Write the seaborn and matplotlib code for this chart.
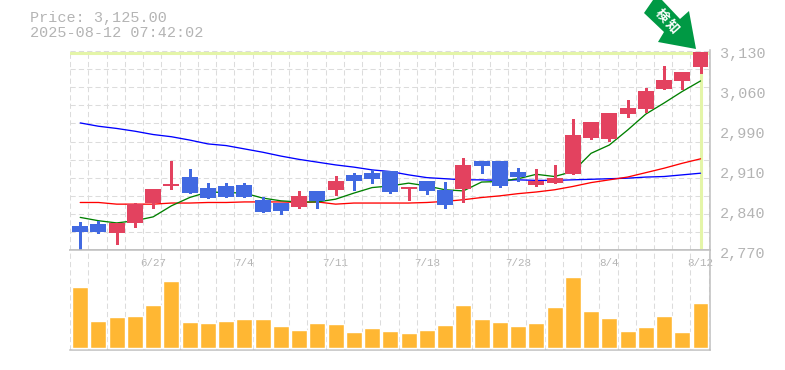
import numpy as np
import pandas as pd
import matplotlib
matplotlib.use("Agg")
import matplotlib.pyplot as plt
from matplotlib.patches import Polygon
from matplotlib.transforms import ScaledTranslation
import seaborn as sns

# ---- data ----
price_open = [2813, 2817, 2801, 2819, 2855, 2886, 2902, 2882, 2886, 2888, 2860, 2855,
              2848, 2877, 2879, 2906, 2909, 2913, 2880, 2895, 2879, 2880, 2931, 2931,
              2911, 2888, 2891, 2908, 2973, 2971, 3016, 3025, 3061, 3076, 3101]
price_high = [2821, 2822, 2819, 2855, 2880, 2931, 2917, 2891, 2891, 2891, 2866, 2855,
              2877, 2877, 2904, 2909, 2915, 2913, 2884, 2895, 2893, 2937, 2931, 2931,
              2918, 2917, 2924, 3007, 3002, 3018, 3042, 3063, 3103, 3092, 3128]
price_low = [2772, 2801, 2781, 2812, 2846, 2880, 2873, 2864, 2866, 2866, 2839, 2835,
             2846, 2846, 2870, 2879, 2891, 2873, 2860, 2871, 2846, 2857, 2909, 2884,
             2895, 2886, 2891, 2908, 2971, 2967, 3011, 3020, 3061, 3061, 3090]
price_close = [2803, 2803, 2819, 2853, 2880, 2890, 2873, 2864, 2866, 2866, 2839, 2841,
               2868, 2859, 2895, 2895, 2899, 2875, 2884, 2877, 2851, 2924, 2922, 2886,
               2902, 2895, 2900, 2978, 3002, 3018, 3027, 3058, 3078, 3092, 3128]
ma_short = [2829, 2823, 2819, 2823, 2830, 2850, 2865, 2875, 2874, 2873, 2864, 2859,
            2857, 2857, 2862, 2873, 2883, 2886, 2891, 2886, 2879, 2877, 2893, 2894,
            2899, 2907, 2903, 2912, 2945, 2960, 2987, 3016, 3036, 3057, 3076]
ma_mid = [2856, 2856, 2853, 2853, 2853, 2855, 2855, 2856, 2856, 2857, 2857, 2857,
          2856, 2857, 2853, 2855, 2855, 2855, 2855, 2856, 2858, 2861, 2865, 2868,
          2872, 2875, 2879, 2885, 2892, 2897, 2902, 2910, 2918, 2927, 2935]
ma_long = [3000, 2994, 2990, 2985, 2979, 2975, 2969, 2962, 2959, 2953, 2947, 2940,
           2934, 2929, 2924, 2920, 2915, 2912, 2906, 2901, 2899, 2897, 2897, 2896,
           2897, 2896, 2896, 2897, 2898, 2899, 2900, 2902, 2903, 2906, 2909]
volume = [61, 27, 31, 32, 43, 67, 26, 25, 27, 29, 29, 22, 18, 25, 24, 16, 20, 17,
          15, 18, 23, 43, 29, 26, 22, 25, 41, 71, 37, 30, 17, 21, 32, 16, 45]
date_labels = ["6/27", "7/4", "7/11", "7/18", "7/28", "8/4", "8/12"]
date_index = [4, 9, 14, 19, 24, 29, 34]
price_ticks = [2770, 2842.4, 2914.8, 2987.2, 3059.6, 3132]
price_labels = ["2,770", "2,840", "2,910", "2,990", "3,060", "3,130"]
current_price = 3128

UP, DOWN = "#e3425f", "#4169e1"
VOL = "#ffb733"
GRID, FRAME, TEXT = "#dcdcdc", "#bfbfbf", "#b4b4b4"
HILITE = "#e4f5a8"
ARROW = "#009944"
MONO = "Liberation Mono"

W, H = 785, 370
sns.set_theme(style="white", rc={"font.family": MONO})
fig = plt.figure(figsize=(W / 100, H / 100), dpi=100)


def axes_px(l, t, r, b):
    return fig.add_axes([l / W, 1 - b / H, (r - l) / W, (b - t) / H])


ax = axes_px(70, 50, 710, 250)
axv = axes_px(70, 250, 710, 350)

n = len(volume)
xs = np.arange(n)
xlim = (-0.56, 34.52)
bounds = np.arange(n + 1) - 0.55
df = pd.DataFrame({"x": xs, "open": price_open, "high": price_high, "low": price_low,
                   "close": price_close, "short": ma_short, "mid": ma_mid,
                   "long": ma_long, "vol": volume})
grid_kw = dict(color=GRID, linewidth=0.75, linestyle=(0, (5, 3)))

# ---- price panel ----
ax.set_xlim(*xlim)
ax.set_ylim(2770, 3132)
ax.set_xticks(bounds, minor=True)
ax.set_xticks([])
ax.set_yticks(2770 + np.arange(12) * 360 / 11, minor=True)
ax.grid(which="minor", **grid_kw)
ax.set_axisbelow(True)
ax.tick_params(which="both", length=0, labelbottom=False)
ax.set_yticks(price_ticks, price_labels)
ax.yaxis.tick_right()
ax.tick_params(axis="y", which="major", length=0, pad=7, labelsize=10.9, labelcolor=TEXT)
for lab in ax.get_yticklabels():
    lab.set_transform(lab.get_transform() + ScaledTranslation(0, -2.4 / 100, fig.dpi_scale_trans))

ax.axhline(current_price - 1, color=HILITE, linewidth=2.2, zorder=1.5)
ax.vlines(n - 1, 2772, current_price, color=HILITE, linewidth=2.2, zorder=1.5)

sns.lineplot(data=df, x="x", y="long", color="#0000ff", linewidth=0.95, ax=ax, zorder=2, errorbar=None)
sns.lineplot(data=df, x="x", y="mid", color="#ff0000", linewidth=0.95, ax=ax, zorder=2.1, errorbar=None)
sns.lineplot(data=df, x="x", y="short", color="#008000", linewidth=0.95, ax=ax, zorder=2.2, errorbar=None)
ax.set_xlabel("")
ax.set_ylabel("")
ax.set_xlim(*xlim)
ax.set_ylim(2770, 3132)

colors = [UP if c >= o else DOWN for o, c in zip(price_open, price_close)]
ax.vlines(xs, price_low, price_high, colors=colors, linewidth=1.0, zorder=3, antialiased=False)
bottoms = np.minimum(price_open, price_close)
heights = np.abs(np.subtract(price_close, price_open))
ax.bar(xs, heights, bottom=bottoms, width=0.875, color=colors, linewidth=0, zorder=4)

for side in ("left", "top"):
    ax.spines[side].set_visible(False)
for side in ("right", "bottom"):
    ax.spines[side].set_color(FRAME)
    ax.spines[side].set_linewidth(1.1)

# ---- volume panel ----
sns.barplot(data=df, x="x", y="vol", native_scale=True, color=VOL, saturation=1,
            width=0.875, ax=axv, zorder=3, errorbar=None)
axv.set_xlim(*xlim)
axv.set_ylim(-2, 98)
axv.set_xlabel("")
axv.set_ylabel("")
axv.set_yticks([])
axv.set_xticks(bounds, minor=True)
axv.grid(which="minor", axis="x", **grid_kw)
axv.set_axisbelow(True)
axv.set_xticks(date_index, date_labels)
axv.tick_params(which="both", length=0)
axv.tick_params(axis="x", which="major", top=False, bottom=False, labeltop=True, labelbottom=False,
                pad=-12.7, labelsize=7.8, labelcolor=TEXT)
axv.spines["left"].set_visible(False)
for side in ("right", "bottom", "top"):
    axv.spines[side].set_color(FRAME)
    axv.spines[side].set_linewidth(1.1)

# ---- header text ----
fig.text(30 / W, 1 - 18 / H, "Price: 3,125.00", color=TEXT, fontsize=10.9, family=MONO, va="center")
fig.text(30 / W, 1 - 33 / H, "2025-08-12 07:42:02", color=TEXT, fontsize=10.9, family=MONO, va="center")

# ---- green arrow badge ----
arrow_px = [(653, 0), (644, 13), (664, 32), (658, 42), (696, 49), (689, 11), (680, 19), (662, 0)]
fig.add_artist(Polygon([(x / W, 1 - y / H) for x, y in arrow_px], closed=True,
                       transform=fig.transFigure, facecolor=ARROW, edgecolor="none", zorder=5))
fig.text(661.5 / W, 1 - 15.5 / H, "検", color="white", fontsize=9.5, weight="bold", rotation=-48,
         family=["Noto Sans CJK JP", "DejaVu Sans"], ha="center", va="center", zorder=6)
fig.text(672.5 / W, 1 - 26.5 / H, "知", color="white", fontsize=9.5, weight="bold", rotation=-48,
         family=["Noto Sans CJK JP", "DejaVu Sans"], ha="center", va="center", zorder=6)

fig.savefig("out.png", dpi=100, facecolor="white")
